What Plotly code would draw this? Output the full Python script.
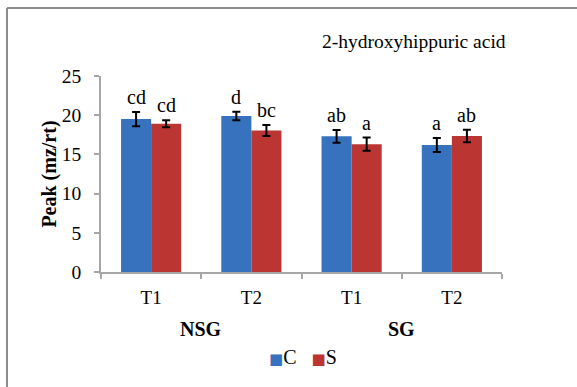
import plotly.graph_objects as go

# Data
groups = ["NSG", "NSG", "SG", "SG"]
times = ["T1", "T2", "T1", "T2"]
c_values = [19.5, 19.9, 17.3, 16.2]
c_errors = [0.9, 0.55, 0.8, 0.9]
s_values = [18.9, 18.05, 16.3, 17.35]
s_errors = [0.45, 0.7, 0.85, 0.8]
c_letters = ["cd", "d", "ab", "a"]
s_letters = ["cd", "bc", "a", "ab"]
y_ticks = [0, 5, 10, 15, 20, 25]
series_names = ["C", "S"]
chart_title = "2-hydroxyhippuric acid"

serif = "Liberation Serif, Times New Roman, serif"
blue = "#3672bd"
red = "#bb3633"
axis_grey = "#a6a6a6"

# plot area in pixels (used to place paper-referenced decorations)
L, R, T, B = 101, 75, 76, 115
W, H = 577, 387
pw, ph = W - L - R, H - T - B


def px_x(x):
    return (x - L) / pw


def px_y(y):
    return (H - B - y) / ph


xpos = list(range(len(times)))
bar_w = 0.3

fig = go.Figure()
for name, vals, errs, color in [(series_names[0], c_values, c_errors, blue),
                                (series_names[1], s_values, s_errors, red)]:
    fig.add_trace(go.Bar(
        name=name, x=xpos, y=vals, marker=dict(color=color, line=dict(width=0)),
        error_y=dict(type="data", array=errs, visible=True, color="black", thickness=2, width=4),
        showlegend=False,
    ))

# significance letters above the error bars
annotations = []
for i in xpos:
    for offset, vals, errs, letters in [(-bar_w / 2, c_values, c_errors, c_letters),
                                        (bar_w / 2, s_values, s_errors, s_letters)]:
        annotations.append(dict(
            x=i + offset, y=vals[i] + errs[i], xref="x", yref="y", text=letters[i],
            showarrow=False, yanchor="bottom", yshift=2,
            font=dict(family=serif, size=20, color="black"),
        ))

# group labels under the time labels
for g in ["NSG", "SG"]:
    idx = [k for k, v in enumerate(groups) if v == g]
    annotations.append(dict(
        x=sum(idx) / len(idx), y=-0.29, xref="x", yref="paper", text="<b>%s</b>" % g,
        showarrow=False, yanchor="middle", font=dict(family=serif, size=20, color="black"),
    ))

annotations.append(dict(
    x=px_x(414), y=px_y(42), xref="paper", yref="paper", text=chart_title,
    showarrow=False, xanchor="center", yanchor="middle",
    font=dict(family=serif, size=19.5, color="black"),
))

# legend row: coloured square + series name
legend_text = "".join(
    '<span style="color:%s;font-family:DejaVu Sans;font-size:15px">■</span>%s%s' % (col, nm, sp)
    for col, nm, sp in [(blue, series_names[0], "   "), (red, series_names[1], "")]
)
annotations.append(dict(
    x=px_x(303), y=px_y(357), xref="paper", yref="paper", text=legend_text,
    showarrow=False, xanchor="center", yanchor="middle",
    font=dict(family=serif, size=20, color="black"),
))

fig.update_layout(
    width=W, height=H,
    margin=dict(l=L, r=R, t=T, b=B, autoexpand=False),
    paper_bgcolor="white", plot_bgcolor="white",
    barmode="group", bargap=0.4, bargroupgap=0,
    showlegend=False,
    annotations=annotations,
    xaxis=dict(
        range=[-0.5, 3.5], tickvals=xpos, ticktext=times, ticks="",
        tickfont=dict(family=serif, size=19, color="black"),
        showline=True, linecolor=axis_grey, linewidth=1.5, showgrid=False, zeroline=False,
        minor=dict(tickvals=[-0.5, 0.5, 1.5, 2.5, 3.5], ticks="outside", ticklen=5,
                   tickcolor=axis_grey, tickwidth=1.5, showgrid=False),
        ticklabelstandoff=7,
    ),
    yaxis=dict(
        range=[0, 25], tickvals=y_ticks, ticks="outside", ticklen=5, tickcolor=axis_grey,
        tickwidth=1.5, tickfont=dict(family=serif, size=19.5, color="black"),
        showline=True, linecolor=axis_grey, linewidth=1.5, showgrid=False, zeroline=False,
        ticklabelstandoff=9,
        title=dict(text="<b>Peak (mz/rt)</b>", font=dict(family=serif, size=20, color="black"),
                   standoff=0),
    ),
)

# outer chart frame: only its top and left edges fall inside the page
frame = dict(color="#8c8c8c", width=2)
fig.add_shape(type="line", xref="paper", yref="paper", x0=px_x(7), x1=px_x(W + 10),
              y0=px_y(8), y1=px_y(8), line=frame, layer="below")
fig.add_shape(type="line", xref="paper", yref="paper", x0=px_x(7), x1=px_x(7),
              y0=px_y(8), y1=px_y(H + 10), line=frame, layer="below")

fig.write_html("out.html")
